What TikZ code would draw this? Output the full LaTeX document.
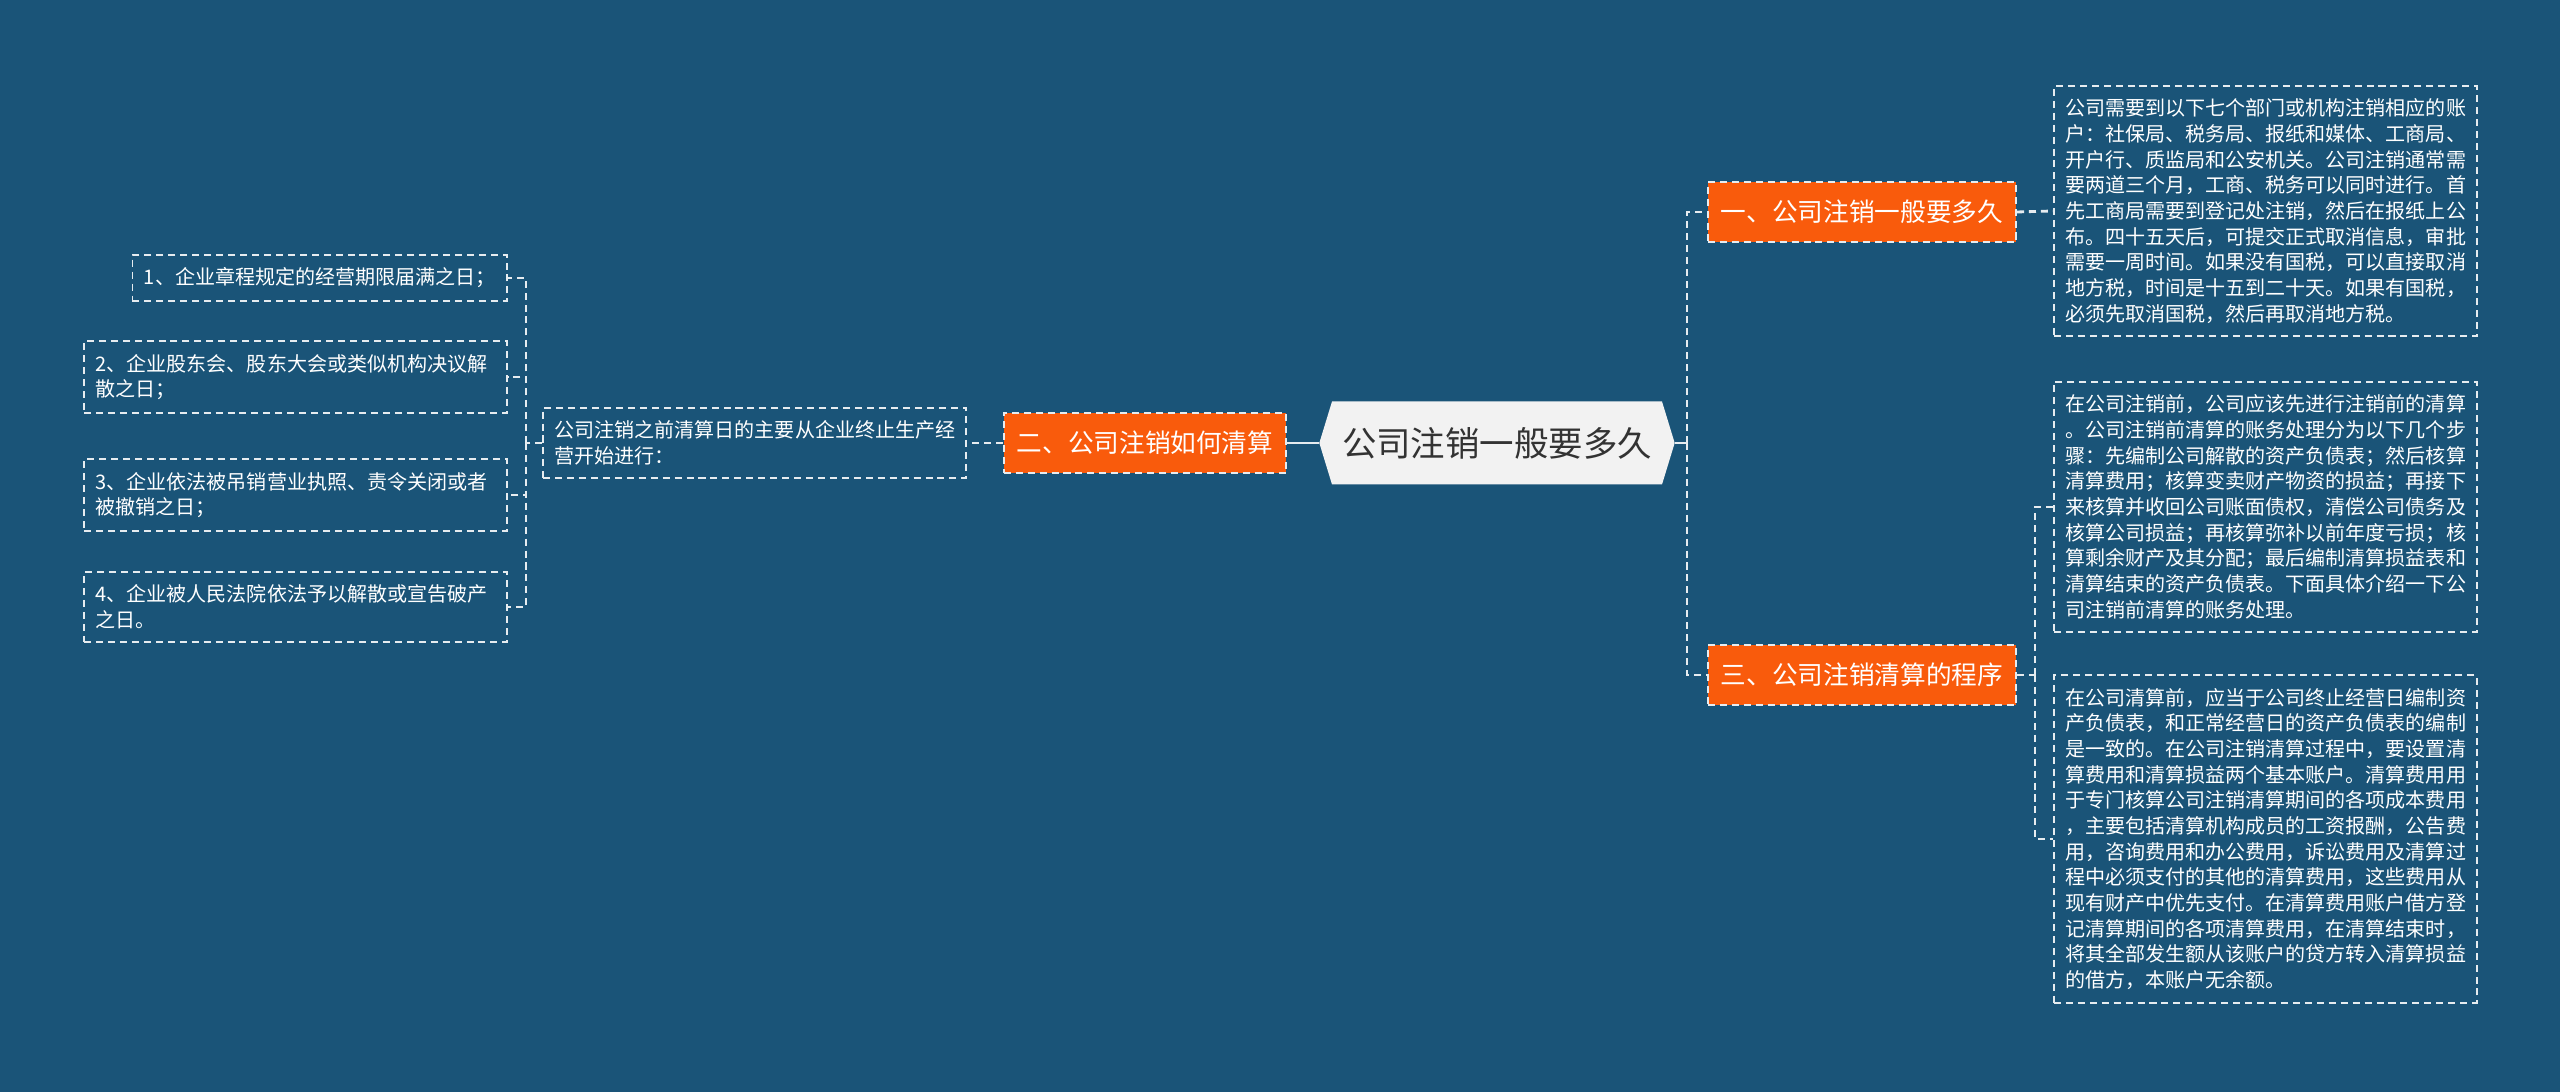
\documentclass[tikz,border=0pt]{standalone}
\usepackage{fontspec}
\newfontfamily\cjk{Noto Sans CJK SC}
\usepackage{xcolor}
\usepackage{tikz}
\usetikzlibrary{arrows.meta,positioning,shapes.symbols}

\definecolor{bgblue}{HTML}{1A5478}
\definecolor{branchorange}{HTML}{F95B0C}
\definecolor{rootgray}{HTML}{F2F2F2}
\definecolor{linewhite}{HTML}{E6ECF0}

\begin{document}
\begin{tikzpicture}[x=1cm,y=1cm,
  root/.style={signal,signal to=west and east,signal pointer angle=146,fill=rootgray,
    draw=none,font=\cjk\fontsize{9.8pt}{11pt}\selectfont,text=black!80,
    minimum width=3.36cm,minimum height=0.83cm,inner xsep=0.1cm},
  branch/.style={rectangle,fill=branchorange,draw=linewhite,dash pattern=on 2pt off 1.4pt,
    line width=0.5pt,font=\cjk\fontsize{7.3pt}{8pt}\selectfont,text=white,
    minimum height=0.6cm,inner xsep=0.13cm},
  leaf/.style={rectangle,draw=linewhite,dash pattern=on 2pt off 1.4pt,line width=0.5pt,
    font=\cjk\fontsize{5.7pt}{7.3pt}\selectfont,text=white,align=left,
    inner xsep=0.115cm,inner ysep=0.13cm},
  wide/.style={leaf,text width=4.0cm},
  trunk/.style={linewhite,line width=0.8pt},
  link/.style={linewhite,line width=0.8pt,dash pattern=on 2pt off 1.4pt}]
% background and page size
\fill[bgblue] (0,0) rectangle (25.6,10.92);
\useasboundingbox (0,0) rectangle (25.6,10.92);
% centre and the three branches
\node[root] (root) at (14.97,6.49) {公司注销一般要多久};
\node[branch] (b1) at (18.62,8.80) {一、公司注销一般要多久};
\node[branch] (b2) at (11.45,6.49) {二、公司注销如何清算};
\node[branch] (b3) at (18.62,4.17) {三、公司注销清算的程序};
% right side texts
\node[wide,anchor=west] (r1) at (20.53,8.81) {公司需要到以下七个部门或机构注销相应的账\\
户：社保局、税务局、报纸和媒体、工商局、\\
开户行、质监局和公安机关。公司注销通常需\\
要两道三个月，工商、税务可以同时进行。首\\
先工商局需要到登记处注销，然后在报纸上公\\
布。四十五天后，可提交正式取消信息，审批\\
需要一周时间。如果没有国税，可以直接取消\\
地方税，时间是十五到二十天。如果有国税，\\
必须先取消国税，然后再取消地方税。};
\node[wide,anchor=west] (r2) at (20.53,5.85) {在公司注销前，公司应该先进行注销前的清算\\
。公司注销前清算的账务处理分为以下几个步\\
骤：先编制公司解散的资产负债表；然后核算\\
清算费用；核算变卖财产物资的损益；再接下\\
来核算并收回公司账面债权，清偿公司债务及\\
核算公司损益；再核算弥补以前年度亏损；核\\
算剩余财产及其分配；最后编制清算损益表和\\
清算结束的资产负债表。下面具体介绍一下公\\
司注销前清算的账务处理。};
\node[wide,anchor=west] (r3) at (20.53,2.53) {在公司清算前，应当于公司终止经营日编制资\\
产负债表，和正常经营日的资产负债表的编制\\
是一致的。在公司注销清算过程中，要设置清\\
算费用和清算损益两个基本账户。清算费用用\\
于专门核算公司注销清算期间的各项成本费用\\
，主要包括清算机构成员的工资报酬，公告费\\
用，咨询费用和办公费用，诉讼费用及清算过\\
程中必须支付的其他的清算费用，这些费用从\\
现有财产中优先支付。在清算费用账户借方登\\
记清算期间的各项清算费用，在清算结束时，\\
将其全部发生额从该账户的贷方转入清算损益\\
的借方，本账户无余额。};
% left side texts
\node[wide,anchor=east] (lmain) at (9.67,6.49) {公司注销之前清算日的主要从企业终止生产经\\
营开始进行：};
\node[leaf,anchor=east] (l1) at (5.08,8.14) {1、企业章程规定的经营期限届满之日；};
\node[wide,anchor=east] (l2) at (5.08,7.15) {2、企业股东会、股东大会或类似机构决议解\\散之日；};
\node[wide,anchor=east] (l3) at (5.08,5.97) {3、企业依法被吊销营业执照、责令关闭或者\\被撤销之日；};
\node[wide,anchor=east] (l4) at (5.08,4.85) {4、企业被人民法院依法予以解散或宣告破产\\之日。};
% junction points
\coordinate (rj) at (16.87,6.49);
\coordinate (lj) at (5.26,6.49);
\coordinate (pj) at (20.35,4.17);
% connectors
\draw[trunk] (root.east) -- (rj);
\draw[trunk] (root.west) -- (b2.east);
\draw[link] (rj) |- (b1.west);
\draw[link] (rj) |- (b3.west);
\draw[link] (b1.east) -- (r1.west);
\draw[link] (b3.east) -- (pj);
\draw[link] (pj) |- (r2.west);
\draw[link] (pj) |- (r3.west);
\draw[link] (b2.west) -- (lmain.east);
\draw[link] (lmain.west) -- (lj);
\foreach \n in {l1,l2,l3,l4}
  \draw[link] (lj) |- (\n.east);
\end{tikzpicture}
\end{document}
